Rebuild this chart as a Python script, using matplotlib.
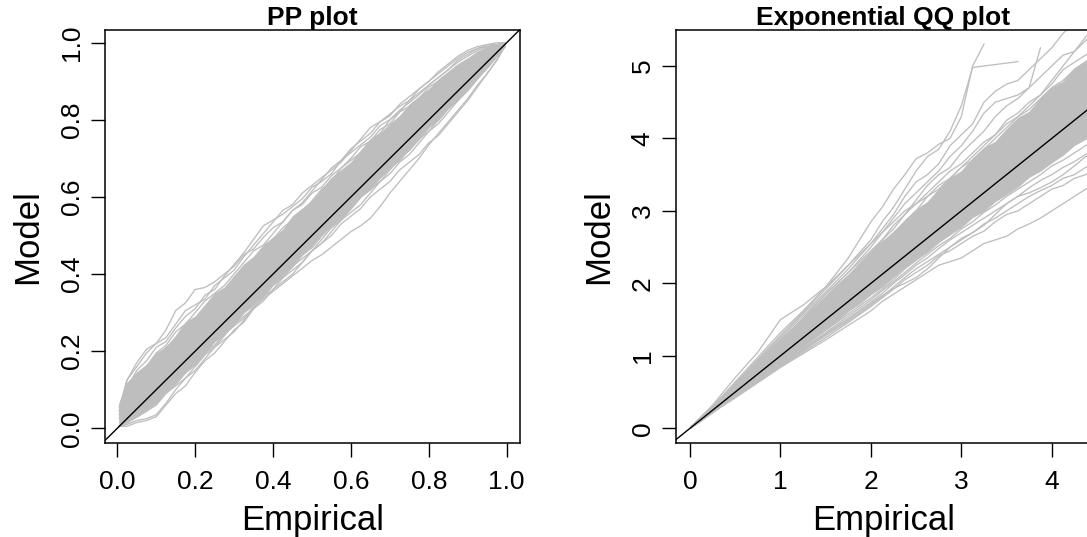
import numpy as np
import matplotlib
matplotlib.use("Agg")
import matplotlib.pyplot as plt

plt.rcParams['font.family'] = ['Liberation Sans', 'DejaVu Sans']

LINE_GRAY = '#BEBEBE'

# ---------------- PP plot data ----------------
pp_x = [0.005, 0.025, 0.05, 0.075, 0.1, 0.125, 0.15, 0.175, 0.2, 0.225,
        0.25, 0.275, 0.3, 0.325, 0.35, 0.375, 0.4, 0.425, 0.45, 0.475,
        0.5, 0.525, 0.55, 0.575, 0.6, 0.625, 0.65, 0.675, 0.7, 0.725,
        0.75, 0.775, 0.8, 0.825, 0.85, 0.875, 0.9, 0.925, 0.95, 0.975, 0.995]

# dense centre of the simulated band
pp_core_upper = [0.065, 0.115, 0.145, 0.165, 0.195, 0.21, 0.24, 0.275, 0.29, 0.32,
                 0.35, 0.365, 0.395, 0.425, 0.445, 0.475, 0.495, 0.515, 0.55, 0.57,
                 0.59, 0.62, 0.65, 0.67, 0.69, 0.72, 0.75, 0.765, 0.79, 0.81,
                 0.84, 0.86, 0.88, 0.905, 0.925, 0.945, 0.96, 0.975, 0.99, 0.995, 1.0]
pp_core_lower = [0.005, 0.015, 0.03, 0.045, 0.065, 0.095, 0.115, 0.145, 0.165, 0.195,
                 0.225, 0.245, 0.27, 0.30, 0.32, 0.345, 0.375, 0.395, 0.42, 0.45,
                 0.47, 0.50, 0.525, 0.545, 0.57, 0.60, 0.62, 0.65, 0.675, 0.695,
                 0.725, 0.75, 0.78, 0.80, 0.83, 0.855, 0.88, 0.91, 0.935, 0.965, 0.99]

# individual simulated PP curves
pp_lines = [
    [0.055, 0.125, 0.16, 0.195, 0.22, 0.255, 0.305, 0.325, 0.36, 0.365, 0.38, 0.40, 0.42, 0.45, 0.465, 0.495, 0.52, 0.535, 0.565, 0.58,
     0.61, 0.625, 0.655, 0.675, 0.70, 0.73, 0.745, 0.775, 0.79, 0.82, 0.835, 0.855, 0.885, 0.90, 0.92, 0.94, 0.955, 0.975, 0.985, 0.995, 1.0],
    [0.035, 0.105, 0.15, 0.175, 0.21, 0.225, 0.26, 0.29, 0.31, 0.345, 0.36, 0.395, 0.425, 0.455, 0.49, 0.525, 0.54, 0.555, 0.575, 0.595,
     0.625, 0.64, 0.66, 0.695, 0.715, 0.735, 0.755, 0.785, 0.80, 0.825, 0.845, 0.865, 0.89, 0.91, 0.93, 0.95, 0.965, 0.98, 0.99, 0.995, 1.0],
    [0.045, 0.115, 0.14, 0.16, 0.195, 0.215, 0.25, 0.27, 0.30, 0.33, 0.35, 0.37, 0.40, 0.43, 0.46, 0.475, 0.505, 0.535, 0.565, 0.585,
     0.615, 0.645, 0.675, 0.695, 0.725, 0.745, 0.765, 0.795, 0.81, 0.84, 0.86, 0.88, 0.90, 0.925, 0.945, 0.965, 0.98, 0.99, 0.995, 0.995, 1.0],
    [0.025, 0.095, 0.13, 0.15, 0.18, 0.21, 0.23, 0.265, 0.285, 0.305, 0.34, 0.36, 0.39, 0.42, 0.44, 0.46, 0.49, 0.52, 0.54, 0.56,
     0.59, 0.62, 0.64, 0.675, 0.695, 0.715, 0.745, 0.765, 0.80, 0.82, 0.85, 0.87, 0.89, 0.91, 0.93, 0.955, 0.97, 0.985, 0.995, 1.0, 1.0],
    [0.005, 0.005, 0.015, 0.02, 0.03, 0.06, 0.09, 0.11, 0.145, 0.175, 0.195, 0.225, 0.255, 0.275, 0.31, 0.33, 0.36, 0.38, 0.40, 0.43,
     0.46, 0.48, 0.51, 0.54, 0.56, 0.58, 0.61, 0.64, 0.66, 0.69, 0.71, 0.74, 0.77, 0.79, 0.82, 0.85, 0.875, 0.905, 0.935, 0.965, 0.99],
    [0.005, 0.02, 0.04, 0.06, 0.08, 0.10, 0.13, 0.145, 0.175, 0.195, 0.215, 0.245, 0.265, 0.285, 0.315, 0.335, 0.355, 0.375, 0.395, 0.415,
     0.435, 0.45, 0.47, 0.49, 0.51, 0.525, 0.545, 0.575, 0.61, 0.64, 0.67, 0.70, 0.735, 0.765, 0.795, 0.825, 0.855, 0.89, 0.92, 0.955, 0.99],
    [0.005, 0.015, 0.03, 0.045, 0.06, 0.09, 0.11, 0.13, 0.16, 0.19, 0.21, 0.24, 0.27, 0.29, 0.31, 0.34, 0.37, 0.39, 0.41, 0.43,
     0.46, 0.48, 0.50, 0.53, 0.55, 0.57, 0.60, 0.62, 0.64, 0.67, 0.69, 0.71, 0.74, 0.76, 0.79, 0.82, 0.85, 0.885, 0.92, 0.955, 0.99],
    [0.005, 0.01, 0.02, 0.025, 0.035, 0.065, 0.10, 0.13, 0.15, 0.18, 0.21, 0.23, 0.25, 0.28, 0.31, 0.34, 0.36, 0.39, 0.42, 0.44,
     0.46, 0.49, 0.52, 0.54, 0.57, 0.60, 0.62, 0.64, 0.67, 0.70, 0.72, 0.75, 0.77, 0.80, 0.83, 0.85, 0.88, 0.91, 0.94, 0.97, 0.995],
    [0.045, 0.125, 0.17, 0.205, 0.22, 0.235, 0.27, 0.305, 0.32, 0.335, 0.37, 0.39, 0.41, 0.445, 0.475, 0.505, 0.535, 0.565, 0.58, 0.61,
     0.63, 0.65, 0.67, 0.69, 0.72, 0.75, 0.78, 0.795, 0.815, 0.835, 0.85, 0.88, 0.90, 0.92, 0.94, 0.96, 0.975, 0.985, 0.99, 0.995, 1.0],
    [0.005, 0.025, 0.045, 0.065, 0.085, 0.115, 0.13, 0.16, 0.19, 0.205, 0.235, 0.255, 0.285, 0.315, 0.335, 0.355, 0.385, 0.405, 0.425, 0.455,
     0.485, 0.505, 0.535, 0.555, 0.575, 0.605, 0.635, 0.655, 0.685, 0.705, 0.735, 0.765, 0.785, 0.815, 0.835, 0.865, 0.89, 0.92, 0.94, 0.97, 0.995],
]

pp_ticks = [0.0, 0.2, 0.4, 0.6, 0.8, 1.0]
pp_ticklabels = ['0.0', '0.2', '0.4', '0.6', '0.8', '1.0']

# ---------------- Exponential QQ plot data ----------------
qq_core_x = [0.01, 0.125, 0.25, 0.375, 0.5, 0.625, 0.75, 0.875, 1.0, 1.125,
             1.25, 1.375, 1.5, 1.625, 1.75, 1.875, 2.0, 2.125, 2.25, 2.375,
             2.5, 2.625, 2.75, 2.875, 3.0, 3.125, 3.25, 3.375, 3.5, 3.625,
             3.75, 3.875, 4.0, 4.125, 4.25, 4.375, 4.5]
qq_core_upper = [0.02, 0.165, 0.32, 0.465, 0.62, 0.765, 0.92, 1.075, 1.24, 1.375,
                 1.53, 1.675, 1.83, 1.985, 2.12, 2.285, 2.44, 2.585, 2.70, 2.875,
                 3.02, 3.125, 3.30, 3.455, 3.55, 3.725, 3.87, 3.955, 4.13, 4.285,
                 4.37, 4.555, 4.70, 4.785, 4.97, 5.075, 5.24]
qq_core_lower = [0.01, 0.11, 0.22, 0.335, 0.45, 0.565, 0.68, 0.795, 0.9, 1.025,
                 1.13, 1.255, 1.37, 1.485, 1.62, 1.725, 1.85, 1.955, 2.09, 2.225,
                 2.33, 2.435, 2.57, 2.675, 2.78, 2.915, 3.0, 3.135, 3.23, 3.335,
                 3.47, 3.555, 3.67, 3.775, 3.91, 3.995, 4.1]

qq_x = [0.01, 0.25, 0.5, 0.75, 1.0, 1.25, 1.5, 1.75, 2.0,
        2.125, 2.25, 2.375, 2.5, 2.625, 2.75, 2.875, 3.0, 3.125, 3.25,
        3.375, 3.5, 3.625, 3.75, 3.875, 4.0, 4.125, 4.25, 4.375, 4.5]

# individual simulated QQ curves (None where a sample has ended)
qq_lines = [
    [0.02, 0.30, 0.64, 0.98, 1.32, 1.62, 1.95, 2.35, 2.85,
     3.05, 3.30, 3.50, 3.72, 3.80, 3.92, 4.00, 4.30, 5.00, 5.30,
     None, None, None, None, None, None, None, None, None, None],
    [0.02, 0.29, 0.62, 0.95, 1.28, 1.60, 1.92, 2.25, 2.60,
     2.85, 3.05, 3.30, 3.55, 3.75, 3.85, 4.10, 4.45, 4.98, 5.00,
     5.02, 5.04, 5.06, None, None, None, None, None, None, None],
    [0.02, 0.29, 0.60, 0.92, 1.22, 1.52, 1.85, 2.15, 2.50,
     2.70, 2.90, 3.10, 3.25, 3.40, 3.55, 3.75, 3.90, 4.10, 4.35,
     4.50, 4.55, 4.60, 4.70, 5.25, None, None, None, None, None],
    [0.02, 0.30, 0.62, 0.94, 1.28, 1.58, 1.88, 2.20, 2.55,
     2.75, 2.95, 3.20, 3.40, 3.50, 3.65, 3.90, 4.05, 4.20, 4.50,
     4.65, 4.75, 4.80, 4.95, 5.10, 5.25, 5.45, 5.60, 5.70, 5.80],
    [0.02, 0.29, 0.60, 0.92, 1.25, 1.55, 1.85, 2.15, 2.45,
     2.60, 2.75, 2.95, 3.15, 3.35, 3.50, 3.60, 3.80, 3.95, 4.10,
     4.30, 4.45, 4.55, 4.70, 4.85, 5.00, 5.15, 5.20, 5.35, 5.50],
    [0.02, 0.28, 0.58, 0.90, 1.20, 1.50, 1.80, 2.10, 2.40,
     2.55, 2.70, 2.85, 3.00, 3.20, 3.35, 3.45, 3.60, 3.75, 3.90,
     4.05, 4.25, 4.35, 4.50, 4.60, 4.75, 4.95, 5.05, 5.15, 5.30],
    [0.02, 0.32, 0.70, 1.05, 1.50, 1.70, 1.95, 2.25, 2.55,
     2.70, 2.85, 3.00, 3.10, 3.25, 3.40, 3.55, 3.65, 3.80, 3.95,
     4.05, 4.20, 4.30, 4.40, 4.55, 4.70, 4.80, 4.95, 5.05, 5.20],
    [0.02, 0.28, 0.58, 0.88, 1.18, 1.48, 1.80, 2.10, 2.42,
     2.60, 2.80, 2.95, 3.10, 3.20, 3.30, 3.45, 3.60, 3.70, 3.85,
     4.00, 4.15, 4.30, 4.45, 4.60, 4.80, 5.00, 5.20, 5.40, 5.55],
    [0.02, 0.28, 0.57, 0.87, 1.17, 1.46, 1.76, 2.05, 2.35,
     2.50, 2.62, 2.78, 2.90, 3.05, 3.20, 3.30, 3.45, 3.60, 3.72,
     3.85, 4.00, 4.15, 4.30, 4.45, 4.60, 4.70, 4.85, 5.00, 5.10],
    [0.02, 0.28, 0.56, 0.86, 1.16, 1.45, 1.74, 2.02, 2.32,
     2.45, 2.60, 2.75, 2.85, 2.95, 3.10, 3.25, 3.35, 3.50, 3.65,
     3.75, 3.90, 4.05, 4.20, 4.40, 4.55, 4.65, 4.80, 4.95, 5.05],
    [0.01, 0.22, 0.42, 0.63, 0.84, 1.03, 1.22, 1.42, 1.62,
     1.75, 1.85, 1.95, 2.05, 2.15, 2.25, 2.30, 2.35, 2.45, 2.55,
     2.60, 2.65, 2.75, 2.82, 2.90, 3.00, 3.10, 3.20, 3.30, 3.35],
    [0.01, 0.22, 0.43, 0.64, 0.85, 1.05, 1.25, 1.46, 1.68,
     1.80, 1.92, 2.05, 2.15, 2.25, 2.38, 2.45, 2.55, 2.65, 2.72,
     2.85, 2.95, 3.00, 3.10, 3.20, 3.30, 3.35, 3.45, 3.50, 3.60],
    [0.01, 0.22, 0.44, 0.65, 0.86, 1.07, 1.28, 1.48, 1.70,
     1.82, 1.95, 2.08, 2.20, 2.30, 2.40, 2.50, 2.60, 2.70, 2.82,
     2.90, 3.00, 3.10, 3.20, 3.28, 3.35, 3.45, 3.50, 3.60, 3.70],
    [0.01, 0.23, 0.45, 0.66, 0.88, 1.09, 1.30, 1.52, 1.74,
     1.86, 2.00, 2.12, 2.25, 2.35, 2.48, 2.60, 2.70, 2.80, 2.90,
     3.00, 3.10, 3.20, 3.32, 3.42, 3.50, 3.60, 3.68, 3.78, 3.85],
    [0.01, 0.23, 0.46, 0.67, 0.89, 1.10, 1.32, 1.55, 1.77,
     1.90, 2.02, 2.15, 2.28, 2.40, 2.52, 2.62, 2.75, 2.85, 2.98,
     3.08, 3.20, 3.30, 3.40, 3.50, 3.62, 3.70, 3.80, 3.90, 4.00],
    [0.01, 0.23, 0.46, 0.68, 0.90, 1.12, 1.35, 1.58, 1.80,
     1.92, 2.05, 2.20, 2.32, 2.45, 2.58, 2.70, 2.80, 2.92, 3.05,
     3.15, 3.28, 3.40, 3.50, 3.60, 3.72, 3.82, 3.92, 4.02, 4.12],
    [0.01, 0.22, 0.44, 0.66, 0.87, 1.08, 1.30, 1.50, 1.72,
     1.83, 1.93, 2.00, 2.08, 2.20, 2.35, 2.50, 2.62, 2.70, 2.80,
     2.95, 3.10, 3.20, 3.25, 3.32, 3.40, 3.50, 3.62, 3.75, 3.82],
]

qq_xticks = [0, 1, 2, 3, 4]
qq_yticks = [0, 1, 2, 3, 4, 5]

# reference line y = x
ref_intercept = 0.0
ref_slope = 1.0

# ---------------- figure ----------------
W, H = 1087, 537
fig = plt.figure(figsize=(W / 100, H / 100), dpi=100)

ax_bottom = 1 - 443.3 / H
ax_height = 413.6 / H
ax_width = 414.7 / W
ax_pp = fig.add_axes([105.3 / W, ax_bottom, ax_width, ax_height])
ax_qq = fig.add_axes([676.0 / W, ax_bottom, ax_width, ax_height])

LW = 0.95

# PP panel
ax_pp.fill_between(pp_x, pp_core_lower, pp_core_upper, color=LINE_GRAY, lw=0.6,
                   edgecolor=LINE_GRAY)
for ys in pp_lines:
    ax_pp.plot(pp_x, ys, color=LINE_GRAY, lw=LW)
ax_pp.axline((0, ref_intercept), slope=ref_slope, color='black', lw=1.0)
ax_pp.set_xlim(-0.0308, 1.0342)
ax_pp.set_ylim(-0.039, 1.0337)
ax_pp.set_xticks(pp_ticks, pp_ticklabels)
ax_pp.set_yticks(pp_ticks, pp_ticklabels)

# QQ panel
ax_qq.fill_between(qq_core_x, qq_core_lower, qq_core_upper, color=LINE_GRAY, lw=0.6,
                   edgecolor=LINE_GRAY)
for ys in qq_lines:
    ax_qq.plot(qq_x, np.array(ys, dtype=float), color=LINE_GRAY, lw=LW)
ax_qq.axline((0, ref_intercept), slope=ref_slope, color='black', lw=1.0)
ax_qq.set_xlim(-0.155, 4.431)
ax_qq.set_ylim(-0.207, 5.501)
ax_qq.set_xticks(qq_xticks, [str(t) for t in qq_xticks])
ax_qq.set_yticks(qq_yticks, [str(t) for t in qq_yticks])

titles = ['PP plot', 'Exponential QQ plot']
for ax, title in zip([ax_pp, ax_qq], titles):
    for sp in ax.spines.values():
        sp.set_linewidth(1.1)
        sp.set_color('black')
    ax.tick_params(axis='both', which='major', length=10, width=1.0,
                   labelsize=19, direction='out', color='black')
    ax.tick_params(axis='x', pad=9.0)
    ax.tick_params(axis='y', pad=5.3, labelrotation=90)
    for lab in ax.get_yticklabels():
        lab.set_va('center')
        lab.set_ha('right')
    ax.text(0.5, (443.3 - 25.0) / 413.6, title, transform=ax.transAxes,
            ha='center', va='baseline', fontsize=19, fontweight='bold')
    ax.text(0.5, (443.3 - 530.0) / 413.6, 'Empirical', transform=ax.transAxes,
            ha='center', va='baseline', fontsize=25)
    ax.text((37.3 - 105.3) / 414.7, 0.5, 'Model', transform=ax.transAxes,
            ha='center', va='baseline', rotation=90, rotation_mode='anchor',
            fontsize=25)

fig.savefig('out.png', dpi=100)
